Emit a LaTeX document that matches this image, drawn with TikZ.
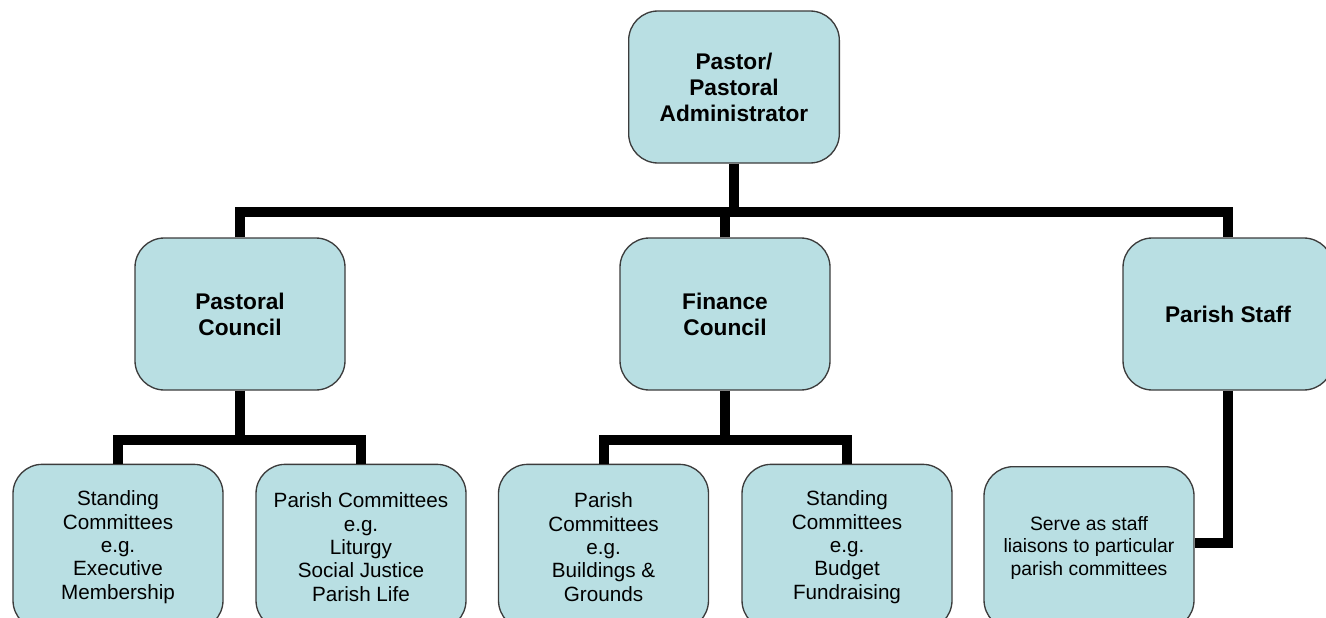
\documentclass[tikz,border=0pt]{standalone}
\usepackage{fontspec}
\setmainfont{Liberation Sans}
\usetikzlibrary{calc}
\definecolor{boxfill}{RGB}{185,223,227}
\definecolor{boxline}{RGB}{60,60,60}
\begin{document}
\begin{tikzpicture}[x=0.75pt,y=-0.75pt,
  orgbox/.style={draw=boxline,line width=1pt,fill=boxfill,rounded corners=22pt,
    minimum width=157.5pt,minimum height=114pt,align=center,inner sep=2pt},
  mainbox/.style={orgbox,font=\fontsize{17}{19.5}\selectfont\bfseries},
  subbox/.style={orgbox,minimum height=124pt,font=\fontsize{15.5}{17.5}\selectfont},
  staffbox/.style={orgbox,minimum height=122pt,font=\fontsize{14.5}{17}\selectfont},
  link/.style={line width=7.5pt,line join=miter}]
\useasboundingbox (0,0) rectangle (1326,617);
\node[mainbox,minimum width=158pt] (top) at (734,87) {Pastor/\\Pastoral\\Administrator};
\node[mainbox] (pc) at (240,314) {Pastoral\\Council};
\node[mainbox] (fc) at (725,314) {Finance\\Council};
\node[mainbox] (ps) at (1228,314) {Parish Staff};
\node[subbox] (s1) at (118,547) {Standing\\Committees\\e.g.\\Executive\\Membership};
\node[subbox] (s2) at (361,547) {Parish Committees\\e.g.\\Liturgy\\Social Justice\\Parish Life};
\node[subbox] (s3) at (603.5,547) {Parish\\Committees\\e.g.\\Buildings \&\\Grounds};
\node[subbox] (s4) at (847,547) {Standing\\Committees\\e.g.\\Budget\\Fundraising};
\node[staffbox] (s5) at (1089,548) {Serve as staff\\liaisons to particular\\parish committees};
\coordinate (bar) at (0,212);
\coordinate (lowbar) at (0,440);
\draw[link] (top.south) -- (top.south |- bar);
\draw[link] (pc.north) |- (top.south |- bar) -| (ps.north);
\draw[link] (fc.north) -- (fc.north |- bar);
\draw[link] (pc.south) -- (pc.south |- lowbar);
\draw[link] (s1.north) |- (pc.south |- lowbar) -| (s2.north);
\draw[link] (fc.south) -- (fc.south |- lowbar);
\draw[link] (s3.north) |- (fc.south |- lowbar) -| (s4.north);
\coordinate (s5link) at ($(s5.east)+(0,-5)$);
\draw[link] (ps.south) |- (s5link);
\end{tikzpicture}
\end{document}
